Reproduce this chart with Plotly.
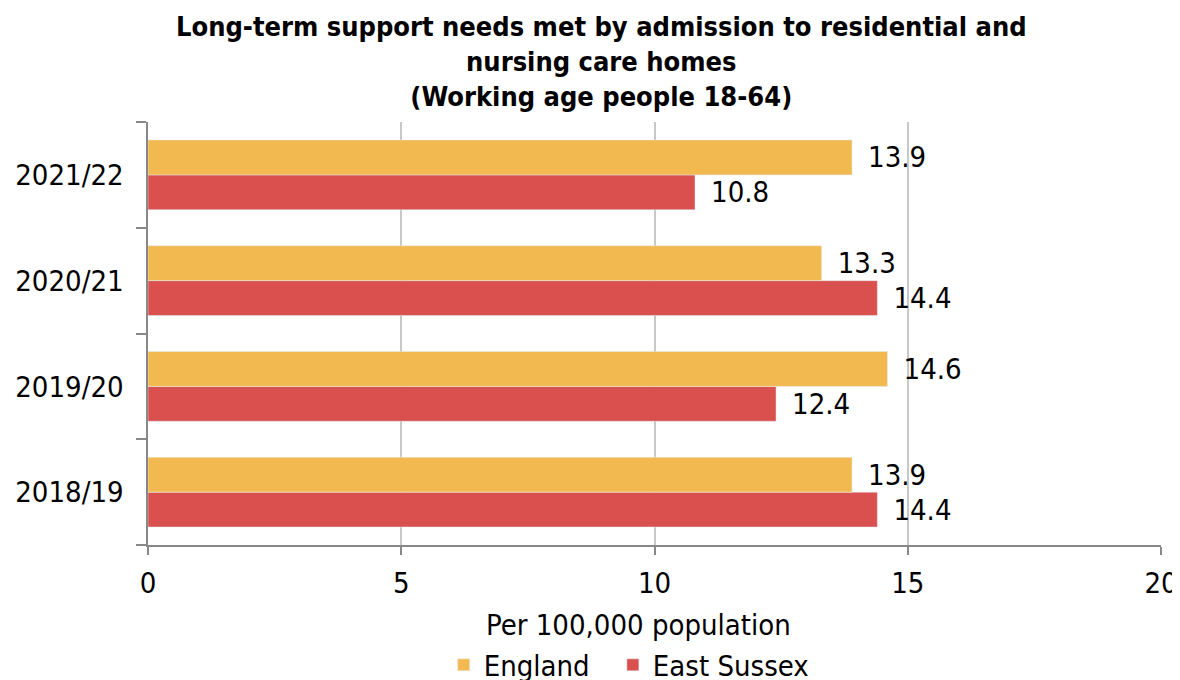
import plotly.graph_objects as go

years = ["2018/19", "2019/20", "2020/21", "2021/22"]
england = [13.9, 14.6, 13.3, 13.9]
east_sussex = [14.4, 12.4, 14.4, 10.8]
x_ticks = [0, 5, 10, 15, 20]

FONT = "DejaVu Sans Condensed, DejaVu Sans"
FS = 29

fig = go.Figure()
fig.add_trace(go.Bar(
    y=years, x=east_sussex, orientation="h", name="East Sussex",
    marker=dict(color="#D9504E"), text=[f"\u2002{v:.1f}" for v in east_sussex],
    textposition="outside", textfont=dict(size=FS, color="#000000", family=FONT),
    cliponaxis=False, legendrank=2,
))
fig.add_trace(go.Bar(
    y=years, x=england, orientation="h", name="England\u2002\u2009",
    marker=dict(color="#F2B950"), text=[f"\u2002{v:.1f}" for v in england],
    textposition="outside", textfont=dict(size=FS, color="#000000", family=FONT),
    cliponaxis=False, legendrank=1,
))

fig.add_annotation(
    text="<b>Long-term support needs met by admission to residential and<br>nursing care homes<br>(Working age people 18-64)</b>",
    xref="paper", yref="paper", x=0.448, y=1.144, xanchor="center", yanchor="middle",
    showarrow=False, font=dict(size=27, family=FONT, color="#000000"),
)
fig.add_annotation(
    text="Per 100,000 population",
    xref="paper", yref="paper", x=0.484, y=-0.189, xanchor="center", yanchor="middle",
    showarrow=False, font=dict(size=FS, family=FONT, color="#000000"),
)

fig.update_layout(
    width=1180, height=680,
    barmode="group", bargap=0.34, bargroupgap=0,
    paper_bgcolor="white", plot_bgcolor="white",
    font=dict(family=FONT, size=FS, color="#000000"),
    margin=dict(l=140, r=27, t=114, b=143, autoexpand=False),
    legend=dict(orientation="h", x=0.475, xanchor="center",
                yref="container", y=1 - 657 / 680, yanchor="middle",
                font=dict(size=FS), itemwidth=30, traceorder="normal"),
    xaxis=dict(
        range=[0, 20], tickvals=x_ticks, ticktext=[str(t) for t in x_ticks],
        showgrid=True, gridcolor="#C8C8C8", gridwidth=2,
        showline=True, linecolor="#888888", linewidth=2,
        ticks="outside", ticklen=8, tickcolor="#888888", tickwidth=2,
        ticklabelstandoff=3,
        zeroline=False, tickfont=dict(size=FS), automargin=False,
    ),
    yaxis=dict(
        categoryorder="array", categoryarray=years,
        showline=True, linecolor="#888888", linewidth=2,
        ticks="outside", ticklen=10, tickcolor="#888888", tickwidth=2,
        tickson="boundaries", tickfont=dict(size=FS), showgrid=False,
        ticksuffix="  ", automargin=False,
    ),
)

fig.write_html("out.html")
